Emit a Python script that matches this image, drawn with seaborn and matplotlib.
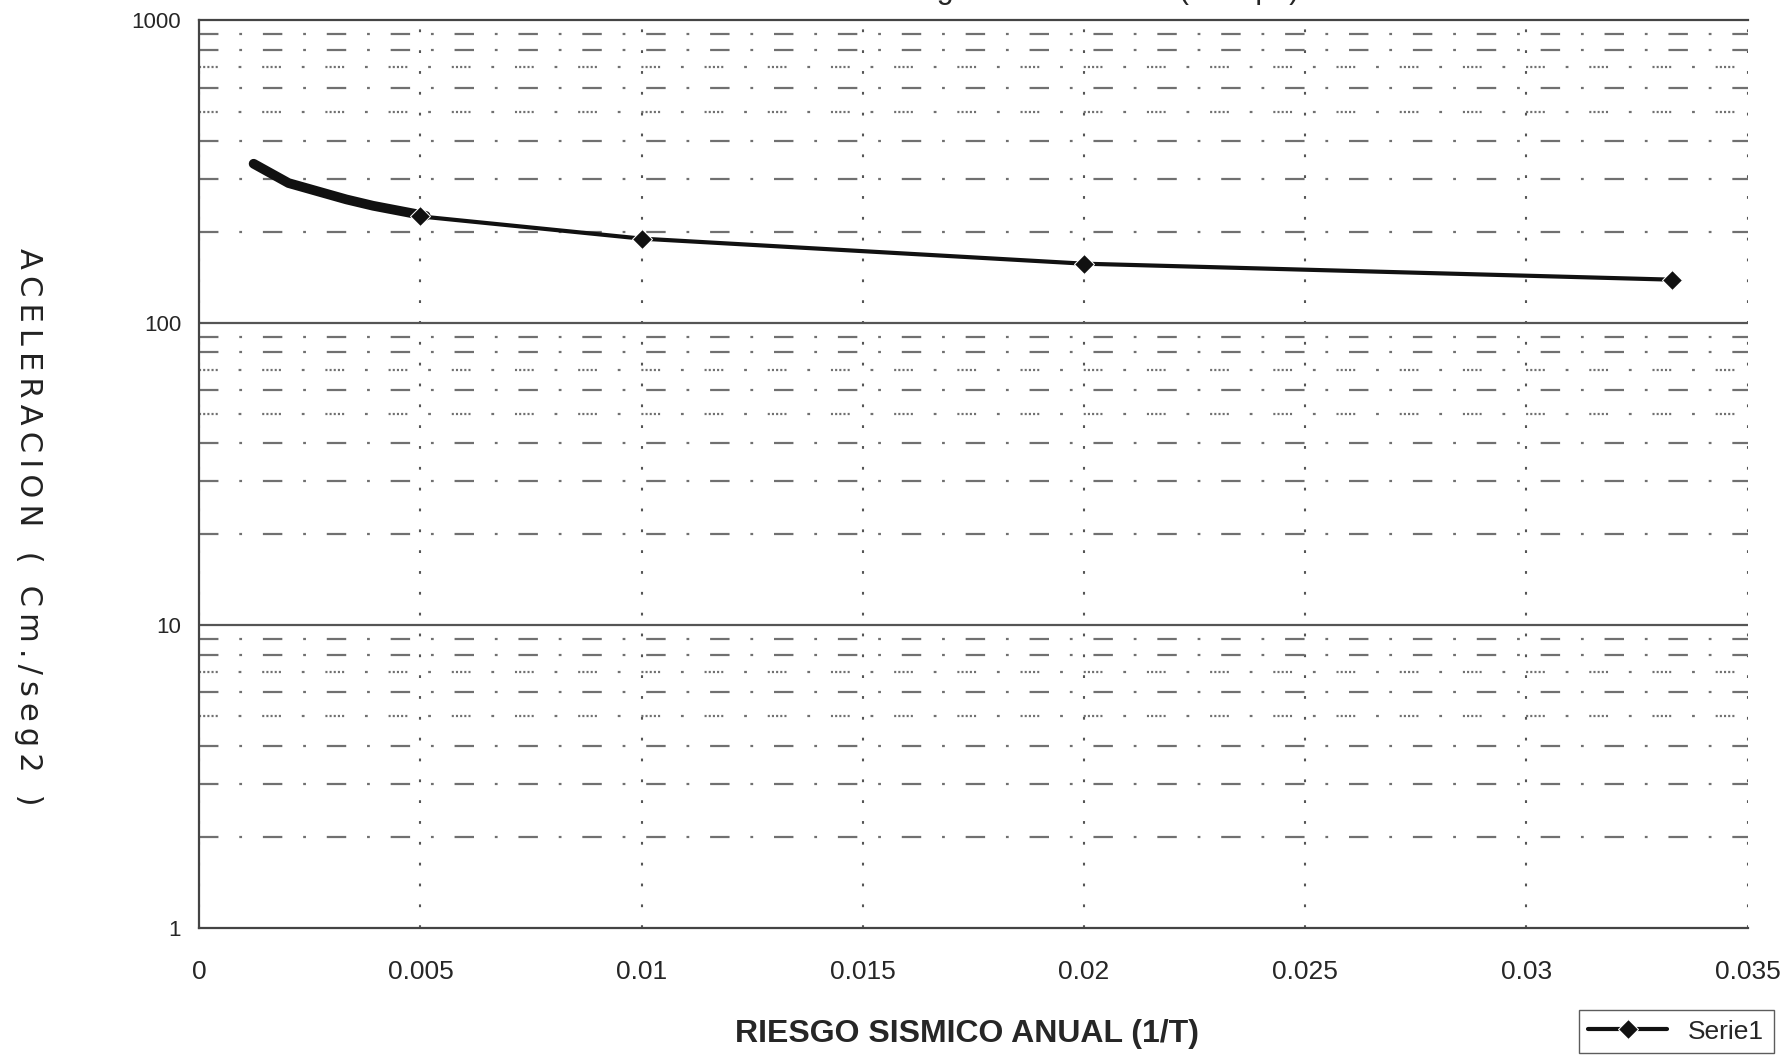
import matplotlib
matplotlib.use("Agg")
import matplotlib.pyplot as plt
from matplotlib import font_manager
import pandas as pd
import seaborn as sns

# Riesgo sismico anual (1/T) contra aceleracion (cm/seg2)
riesgo = [0.005, 0.01, 0.02, 0.0333]
aceleracion = [225, 190, 157, 139]

# trazo hecho a mano sobre la copia, para 1/T menor a 0.005
riesgo_mano = [0.00123, 0.00202, 0.00333, 0.00393, 0.00512]
aceleracion_mano = [336, 290, 256, 244, 226]

x_ticks = [0, 0.005, 0.01, 0.015, 0.02, 0.025, 0.03, 0.035]
x_labels = ['0', '0.005', '0.01', '0.015', '0.02', '0.025', '0.03', '0.035']
y_ticks = [1, 10, 100, 1000]
y_labels = ['1', '10', '100', '1000']

sns.set_style("white")
nombres = {f.name for f in font_manager.fontManager.ttflist}
angosta = 'Liberation Sans Narrow' if 'Liberation Sans Narrow' in nombres else 'Liberation Sans'
plt.rcParams['font.family'] = ['Liberation Sans', 'DejaVu Sans']
plt.rcParams['lines.scale_dashes'] = False

serie = pd.DataFrame({'riesgo': riesgo, 'aceleracion': aceleracion})
mano = pd.DataFrame({'riesgo': riesgo_mano, 'aceleracion': aceleracion_mano})

fig = plt.figure(figsize=(17.85, 10.56), dpi=100)
ax = fig.add_axes([0.1116, 0.1214, 0.8674, 0.8592])
ax.set_yscale('log')

# Rejilla: decadas solidas, subdivisiones raya-punto (5 y 7 punteadas)
gris = '#707070'
for decada in y_ticks[:-1]:
    for m in range(2, 10):
        if m in (5, 7):
            estilo = (0, (1.5, 1.5, 1.5, 1.5, 1.5, 1.5, 1.5, 1.5, 1.5, 15, 2, 15))
        else:
            estilo = (0, (14, 15, 2, 15))
        ax.axhline(decada * m, color=gris, lw=1.6, linestyle=estilo, zorder=1)
    if decada > 1:
        ax.axhline(decada, color='#555555', lw=1.6, zorder=1)
ax.grid(axis='x', which='major', color='#555555', lw=1.5, linestyle=(0, (2, 13)))
ax.grid(axis='y', which='both', visible=False)

# Lineas
sns.lineplot(x='riesgo', y='aceleracion', data=mano, color='#111111', linewidth=7,
             solid_capstyle='round', solid_joinstyle='round', legend=False, ax=ax, zorder=4)
sns.lineplot(x='riesgo', y='aceleracion', data=serie, color='#111111', linewidth=3,
             marker='D', markersize=10, label='Serie1', ax=ax, zorder=5)

ax.set_xlim(0, 0.035)
ax.set_ylim(1, 1000)

# Ejes
for lado in ['left', 'bottom', 'top']:
    ax.spines[lado].set_color('#444444')
    ax.spines[lado].set_linewidth(1.6)
ax.spines['right'].set_visible(False)

ax.set_xticks(x_ticks)
ax.set_xticklabels(x_labels, family=angosta, fontsize=19)
ax.set_yticks(y_ticks)
ax.set_yticklabels(y_labels, fontsize=16)
ax.tick_params(axis='x', which='major', direction='inout', length=14, width=1.3, pad=16, color='#444444')
ax.tick_params(axis='y', which='major', direction='out', length=6, width=1.3, pad=7, color='#444444')
ax.tick_params(axis='y', which='minor', direction='in', length=16, width=1.6, color='#555555')
ax.set_xlabel('')
ax.set_ylabel('')

# Titulos (el titulo superior queda cortado en la copia original)
fig.text(0.491, 1.002, 'Riesgo Sismico Anual (Tiempo)', ha='left', va='baseline', fontsize=22)
fig.text(0.542, 0.021, 'RIESGO SISMICO ANUAL (1/T)', ha='center', va='center',
         family=angosta, fontsize=23, weight='bold')
etiqueta_y = '\u2009'.join('ACELERACION') + '\u2009\u2009\u2009\u2009' + '\u2009'.join('( Cm./seg2 )')
fig.text(0.016, 0.501, etiqueta_y, rotation=270, ha='center', va='center',
         family=['DejaVu Sans'], fontsize=22, color='#222222')

# Leyenda
ax.legend(loc='lower right', bbox_to_anchor=(0.9936, 0.003), bbox_transform=fig.transFigure,
          borderaxespad=0, frameon=True, fancybox=False, edgecolor='#333333',
          prop={'family': angosta, 'size': 19}, handlelength=3.0, borderpad=0.35)

fig.savefig('out.png', dpi=100)
